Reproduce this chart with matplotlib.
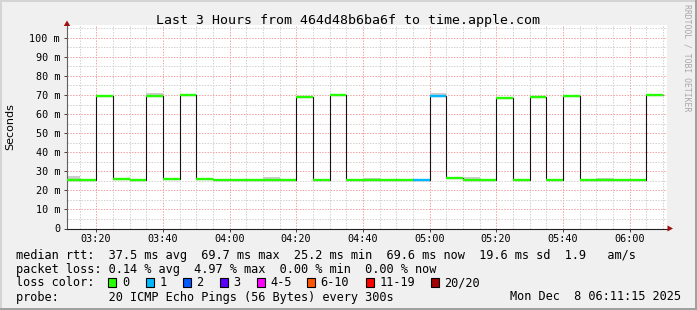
import matplotlib
matplotlib.use("Agg")
import matplotlib.pyplot as plt
from matplotlib.patches import Rectangle, Polygon
from matplotlib.ticker import FixedLocator, FuncFormatter

# 5 minute steps, time in minutes after 03:00
start_min = 10
step_min = 5
median_ms = [25.6, 25.6, 69.3, 26.0, 25.6, 69.3, 26.0, 70.0, 26.0, 25.6,
             25.6, 25.6, 25.6, 25.6, 68.8, 25.6, 69.8, 25.6, 25.6, 25.6,
             25.6, 25.6, 69.3, 26.6, 25.6, 25.6, 68.3, 25.6, 68.8, 25.6,
             69.3, 25.6, 25.6, 25.6, 25.6, 69.9]
loss_level = [0, 0, 0, 0, 0, 0, 0, 0, 0, 0,
              0, 0, 0, 0, 0, 0, 0, 0, 0, 0,
              0, 1, 1, 0, 0, 0, 0, 0, 0, 0,
              0, 0, 0, 0, 0, 0]
smoke_top_ms = [27.5, None, None, None, None, 70.9, None, None, None, None,
                None, None, 26.8, None, None, None, None, None, 26.3, None,
                None, None, 70.9, None, 27.0, None, None, None, None, None,
                None, None, 26.5, None, None, None]

loss_labels = ['0', '1', '2', '3', '4-5', '6-10', '11-19', '20/20']
loss_colors = ['#26ff00', '#00b8ff', '#0059ff', '#5e00ff',
               '#ff00ff', '#ff5500', '#ff0000', '#a00000']

title = 'Last 3 Hours from 464d48b6ba6f to time.apple.com'
rtt_line = 'median rtt:  37.5 ms avg  69.7 ms max  25.2 ms min  69.6 ms now  19.6 ms sd  1.9   am/s'
loss_line = 'packet loss: 0.14 % avg  4.97 % max  0.00 % min  0.00 % now'
probe_line = 'probe:       20 ICMP Echo Pings (56 Bytes) every 300s'
stamp = 'Mon Dec  8 06:11:15 2025'

W, H = 697, 310
MONO = 'DejaVu Sans Mono'


def fx(x):
    return x / W


def fy(y):
    return 1 - y / H


fig = plt.figure(figsize=(W / 100, H / 100), dpi=100, facecolor='#f0f0f0')
ax = fig.add_axes([fx(67), fy(228.5), 600 / W, (228.5 - 25) / H])
ax.set_facecolor('white')

edges = [start_min + step_min * i for i in range(len(median_ms) + 1)]

# smoke
for i, top in enumerate(smoke_top_ms):
    if top is not None:
        ax.fill_between([edges[i], edges[i + 1]], median_ms[i] - 0.5, top,
                        color='#cccccc', lw=0, zorder=2)

# median: thin dark step line, loss coloured level segments on top
ax.stairs(median_ms, edges, baseline=None, color='#1a1010', lw=0.8, zorder=3)
ax.hlines(median_ms, edges[:-1], edges[1:],
          colors=[loss_colors[k] for k in loss_level], lw=1.7, zorder=4,
          capstyle='butt')

ax.set_xlim(11.25, 191.25)
ax.set_ylim(0, 106.7)

xmaj = list(range(20, 181, 20))
xmin = [m for m in range(15, 191, 5) if m not in xmaj]
ymaj = list(range(0, 101, 10))
ymin = list(range(5, 106, 10))
ax.xaxis.set_major_locator(FixedLocator(xmaj))
ax.xaxis.set_minor_locator(FixedLocator(xmin))
ax.yaxis.set_major_locator(FixedLocator(ymaj))
ax.yaxis.set_minor_locator(FixedLocator(ymin))
ax.xaxis.set_major_formatter(FuncFormatter(
    lambda v, p: '%02d:%02d' % (3 + int(v) // 60, int(v) % 60)))
ax.yaxis.set_major_formatter(FuncFormatter(
    lambda v, p: '0' if v == 0 else '%d m' % v))

ax.grid(which='major', color='#f2a0a0', lw=0.72, ls=(0, (1.4, 1.4)), zorder=1)
ax.grid(which='minor', color='#d0d0d0', lw=0.72, ls=(0, (1.4, 1.4)), zorder=1)
ax.set_axisbelow(True)

for s in ['top', 'right']:
    ax.spines[s].set_visible(False)
ax.spines['left'].set_color('#606060')
ax.spines['bottom'].set_color('#202020')
ax.spines['left'].set_linewidth(0.8)
ax.spines['bottom'].set_linewidth(0.8)

ax.tick_params(which='major', length=2.2, width=0.7, color='#404040',
               labelsize=7.3, pad=1.6)
ax.tick_params(axis='y', which='major', pad=2.8)
ax.tick_params(which='minor', length=0)
for lab in ax.get_xticklabels() + ax.get_yticklabels():
    lab.set_fontfamily(MONO)

# axis arrows
arrow_col = '#a01010'
fig.add_artist(Polygon([[fx(63.8), fy(26)], [fx(70.2), fy(26)], [fx(67), fy(20.5)]],
                       closed=True, transform=fig.transFigure, color=arrow_col, lw=0))
fig.add_artist(Polygon([[fx(667.5), fy(225.5)], [fx(667.5), fy(231.5)], [fx(673), fy(228.5)]],
                       closed=True, transform=fig.transFigure, color=arrow_col, lw=0))

# title and side texts
fig.text(fx(348.5), fy(24), title, ha='center', va='baseline',
         fontsize=9.55, family=MONO)
fig.text(fx(10.5), fy(127), 'Seconds', rotation=90, ha='center', va='center',
         fontsize=8, family='DejaVu Sans')
fig.text(fx(687), fy(4), 'RRDTOOL / TOBI OETIKER', rotation=270, ha='center',
         va='top', fontsize=5.9, family=MONO, color='#a8a8a8')

# legend rows
fs = 8.55
fig.text(fx(16), fy(258.5), rtt_line, ha='left', va='baseline', fontsize=fs, family=MONO)
fig.text(fx(16), fy(272.5), loss_line, ha='left', va='baseline', fontsize=fs, family=MONO)
fig.text(fx(16), fy(286.5), 'loss color:', ha='left', va='baseline', fontsize=fs, family=MONO)
fig.text(fx(16), fy(300.5), probe_line, ha='left', va='baseline', fontsize=fs, family=MONO)
fig.text(fx(681), fy(300.5), stamp, ha='right', va='baseline', fontsize=fs, family=MONO)

box_x = [108, 145.5, 182.5, 219.5, 256.5, 306.5, 365.5, 430.5]
for bx, lab, col in zip(box_x, loss_labels, loss_colors):
    fig.add_artist(Rectangle((fx(bx), fy(286.5)), 8 / W, 8.5 / H,
                             transform=fig.transFigure, facecolor=col,
                             edgecolor='black', lw=0.8))
    fig.text(fx(bx + 14), fy(286.5), lab, ha='left', va='baseline',
             fontsize=fs, family=MONO)

# frame of the image
fig.add_artist(Rectangle((0, fy(2)), 1, 2 / H, transform=fig.transFigure,
                         color='#d4d4d4', lw=0))
fig.add_artist(Rectangle((0, 0), 2 / W, 1, transform=fig.transFigure,
                         color='#d4d4d4', lw=0))
fig.add_artist(Rectangle((fx(695), 0), 2 / W, 1, transform=fig.transFigure,
                         color='#a0a0a0', lw=0))
fig.add_artist(Rectangle((0, 0), 1, 2.5 / H, transform=fig.transFigure,
                         color='#a0a0a0', lw=0))

fig.savefig('out.png', dpi=100, facecolor=fig.get_facecolor())
